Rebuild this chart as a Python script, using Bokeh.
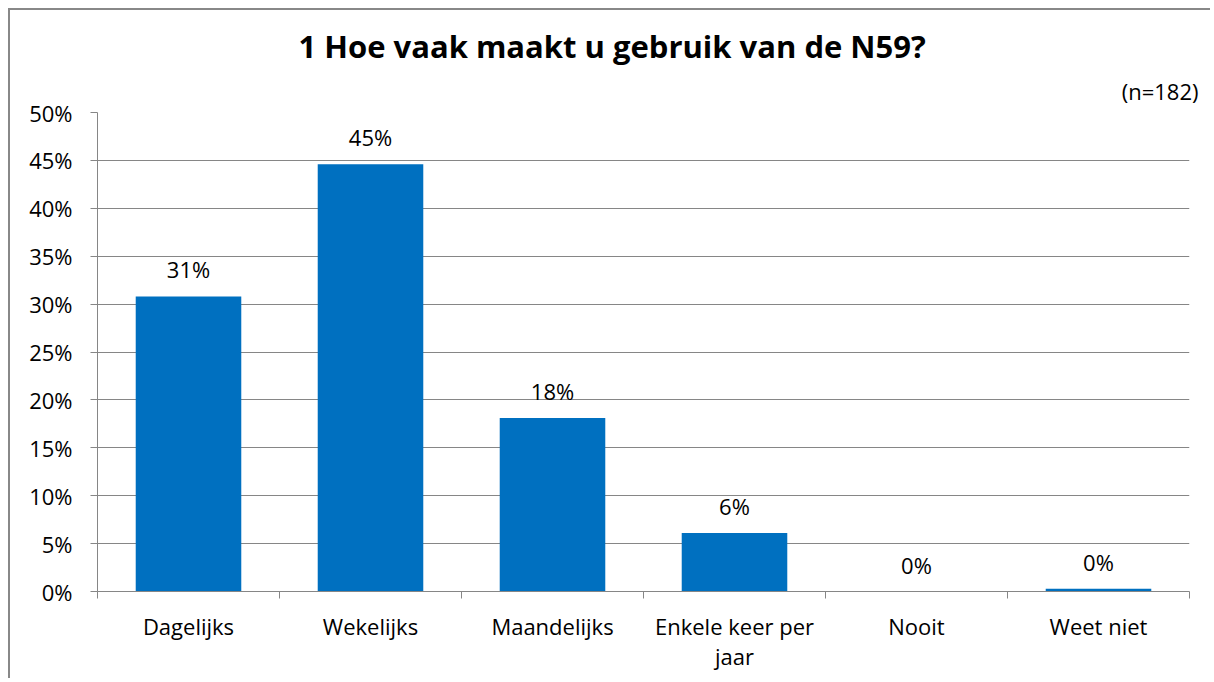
from bokeh.plotting import figure
from bokeh.models import (ColumnDataSource, FixedTicker, NumeralTickFormatter,
                          LabelSet, Title, Range1d)
from bokeh.core.properties import value
from bokeh.embed import file_html
from bokeh.resources import INLINE

categories = ["Dagelijks", "Wekelijks", "Maandelijks", "Enkele keer per\njaar", "Nooit", "Weet niet"]
values = [0.308, 0.446, 0.181, 0.061, 0.0, 0.003]
value_labels = ["31%", "45%", "18%", "6%", "0%", "0%"]
title_text = "1 Hoe vaak maakt u gebruik van de N59?"
n_text = "(n=182)"
y_ticks = [0.0, 0.05, 0.10, 0.15, 0.20, 0.25, 0.30, 0.35, 0.40, 0.45, 0.50]

FONT = "Open Sans"
GRAY = "#868686"
BLUE = "#0070C0"
FS = "22px"

centers = [i + 0.5 for i in range(len(categories))]
bounds = list(range(len(categories) + 1))

src = ColumnDataSource(dict(x=centers, top=values, lab=value_labels))

p = figure(width=1202, height=670, output_backend="svg", toolbar_location=None,
           x_range=Range1d(0, len(categories)), y_range=Range1d(0, 0.5))
p.min_border_left = 87
p.min_border_top = 98
p.min_border_right = 23
p.min_border_bottom = 89
p.outline_line_color = None
p.styles = {"margin-left": "8px", "margin-top": "8px",
            "border-left": "2px solid #888888", "border-top": "2px solid #888888"}

p.vbar(x="x", top="top", width=0.58, source=src, color=BLUE, line_color=None)

p.add_layout(LabelSet(x="x", y="top", text="lab", source=src, text_align="center",
                      text_baseline="bottom", y_offset=12, text_font=value(FONT),
                      text_font_size=value(FS), text_color=value("#000000")))

# axes
p.xgrid.visible = False
p.ygrid.grid_line_color = GRAY
p.ygrid.grid_line_width = 1
p.ygrid.ticker = FixedTicker(ticks=y_ticks)

ya = p.yaxis[0]
ya.ticker = FixedTicker(ticks=y_ticks)
ya.formatter = NumeralTickFormatter(format="0%")
ya.axis_line_color = GRAY
ya.major_tick_line_color = GRAY
ya.major_tick_out = 7
ya.major_tick_in = 0
ya.minor_tick_line_color = None
ya.major_label_standoff = 18
ya.major_label_text_font = FONT
ya.major_label_text_font_size = FS
ya.major_label_text_color = "#000000"

xa = p.xaxis[0]
xa.ticker = FixedTicker(ticks=centers, minor_ticks=bounds)
xa.major_label_overrides = {c: lab for c, lab in zip(centers, categories)}
xa.axis_line_color = GRAY
xa.major_tick_line_color = None
xa.major_tick_out = 0
xa.major_tick_in = 0
xa.minor_tick_line_color = GRAY
xa.minor_tick_out = 7
xa.minor_tick_in = 0
xa.major_label_standoff = 12
xa.major_label_text_font = FONT
xa.major_label_text_font_size = FS
xa.major_label_text_color = "#000000"
xa.major_label_text_line_height = 1.0

p.add_layout(Title(text=n_text, align="right", offset=-9, standoff=14,
                   text_font=FONT, text_font_size=FS, text_font_style="normal",
                   text_color="#000000"), "above")
p.add_layout(Title(text=title_text, align="left", offset=201, standoff=0,
                   text_font=FONT, text_font_size="31px", text_font_style="bold",
                   text_color="#000000"), "above")
# empty spacer above the title
p.add_layout(Title(text=" ", standoff=9, text_font_size="1px"), "above")

open("out.html", "w").write(file_html(p, INLINE))
